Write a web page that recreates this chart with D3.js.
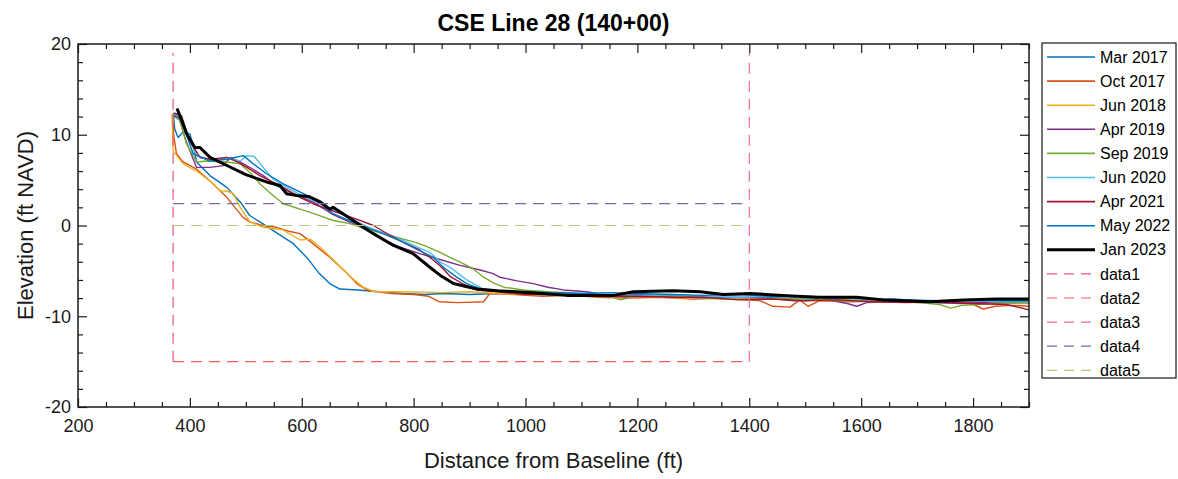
<!DOCTYPE html>
<html lang="en">
<head>
    <meta charset="UTF-8">
    <title>CSE Line 28 (140+00)</title>
    <script src="https://d3js.org/d3.v7.min.js"></script>
    <style>
        body { margin: 0; background: #fff; }
        svg { font-family: "Liberation Sans", Arial, sans-serif; }
        .tick text { font-size: 18px; fill: #1a1a1a; }
        .tick line { stroke: #1a1a1a; stroke-width: 1.2; }
    </style>
</head>
<body>
    <div id="chart"></div>
    <script>
        // survey names (legend order)
        const surveyNames = ["Mar 2017", "Oct 2017", "Jun 2018", "Apr 2019", "Sep 2019",
                             "Jun 2020", "Apr 2021", "May 2022", "Jan 2023"];

        // profiles: [distance ft, elevation ft NAVD]
        const mar2017 = [[370,12.3],[373,10.6],[379,9.7],[388,10.3],[400,10.1],[406,8.8],[412,7.0],[436,5.5],[466,4.2],[490,2.6],[507,1.1],[530,0.2],[560,-1.0],[585,-2.0],[610,-3.6],[630,-5.2],[650,-6.4],[668,-7.0],[700,-7.1],[740,-7.3],[780,-7.5],[820,-7.6],[853,-7.5],[900,-7.6],[950,-7.5],[1000,-7.6],[1060,-7.7],[1120,-7.6],[1180,-7.9],[1240,-7.8],[1300,-7.8],[1360,-8.0],[1420,-7.9],[1480,-8.0],[1540,-8.1],[1600,-8.2],[1660,-8.1],[1720,-8.4],[1780,-8.3],[1840,-8.4],[1900,-8.2]];
        const oct2017 = [[370,12.4],[371,10.0],[376,7.9],[388,7.0],[412,6.2],[436,4.9],[466,3.1],[495,0.9],[507,0.4],[530,0.0],[555,-0.2],[575,-0.6],[597,-0.9],[620,-2.0],[650,-3.5],[680,-5.2],[700,-6.5],[720,-7.2],[760,-7.5],[800,-7.6],[827,-7.8],[845,-8.4],[880,-8.5],[925,-8.4],[936,-7.5],[980,-7.6],[1030,-7.8],[1080,-7.7],[1130,-7.9],[1180,-8.0],[1240,-7.9],[1300,-8.1],[1360,-8.0],[1420,-8.3],[1442,-8.9],[1473,-9.0],[1490,-8.2],[1505,-8.9],[1525,-8.3],[1580,-8.4],[1640,-8.3],[1700,-8.5],[1760,-8.4],[1800,-8.7],[1818,-9.2],[1840,-8.9],[1870,-8.8],[1900,-8.9]];
        const jun2018 = [[368,12.3],[370,8.2],[388,6.8],[412,6.0],[442,4.6],[454,3.8],[466,3.8],[478,3.5],[490,2.0],[507,0.4],[531,-0.2],[567,-0.5],[597,-1.6],[615,-1.5],[633,-2.4],[660,-4.0],[690,-5.8],[710,-6.8],[730,-7.3],[780,-7.3],[850,-7.4],[900,-7.3],[950,-7.5],[1000,-7.6],[1060,-7.6],[1120,-7.8],[1180,-7.7],[1240,-7.9],[1300,-8.0],[1360,-8.1],[1420,-8.0],[1480,-8.2],[1540,-8.3],[1600,-8.1],[1660,-8.3],[1720,-8.4],[1780,-8.5],[1840,-8.6],[1900,-8.6]];
        const apr2019 = [[372,12.2],[380,12.0],[392,9.5],[406,7.3],[412,6.4],[436,6.4],[460,6.6],[472,7.5],[490,7.0],[513,6.2],[531,5.5],[555,4.4],[585,3.5],[620,2.6],[656,1.2],[692,0.2],[716,-0.5],[745,-1.5],[776,-2.4],[811,-3.1],[850,-3.8],[883,-4.4],[919,-4.9],[942,-5.3],[954,-5.7],[985,-6.1],[1014,-6.4],[1040,-6.8],[1068,-7.1],[1109,-7.3],[1150,-7.7],[1200,-7.6],[1260,-7.8],[1320,-8.0],[1380,-7.9],[1430,-8.0],[1480,-8.3],[1540,-8.2],[1575,-8.6],[1592,-8.9],[1610,-8.5],[1660,-8.4],[1720,-8.5],[1780,-8.6],[1840,-8.4],[1900,-8.5]];
        const sep2019 = [[371,12.0],[382,11.6],[394,9.0],[412,7.0],[430,7.1],[466,7.0],[490,6.8],[513,5.5],[525,4.6],[545,3.5],[567,2.4],[597,1.8],[627,1.2],[656,0.55],[686,0.2],[716,-0.4],[746,-0.9],[776,-1.4],[800,-1.8],[823,-2.3],[845,-2.9],[865,-3.5],[895,-4.4],[907,-4.8],[925,-5.7],[945,-6.4],[961,-6.8],[996,-7.1],[1040,-7.3],[1080,-7.4],[1120,-7.6],[1150,-7.8],[1170,-8.2],[1190,-7.9],[1240,-7.7],[1300,-7.9],[1360,-8.1],[1400,-8.2],[1450,-8.0],[1500,-8.1],[1560,-8.3],[1620,-8.4],[1690,-8.4],[1740,-8.7],[1760,-9.1],[1780,-8.8],[1840,-8.6],[1900,-8.5]];
        const jun2020 = [[370,12.3],[384,12.0],[396,10.0],[412,7.7],[448,7.1],[466,7.5],[490,7.1],[502,7.7],[515,7.6],[531,6.4],[549,5.1],[573,4.2],[603,3.2],[640,2.2],[680,1.0],[716,-0.1],[750,-0.9],[776,-1.5],[811,-2.5],[830,-3.0],[847,-4.0],[865,-4.6],[880,-5.3],[895,-6.0],[924,-7.0],[960,-7.3],[1000,-7.5],[1050,-7.6],[1100,-7.5],[1150,-7.6],[1200,-7.7],[1260,-7.6],[1320,-7.8],[1380,-7.9],[1440,-7.8],[1500,-8.0],[1560,-8.0],[1620,-8.2],[1680,-8.3],[1740,-8.4],[1800,-8.3],[1860,-8.4],[1900,-8.4]];
        const apr2021 = [[371,12.4],[385,12.1],[398,9.5],[418,7.5],[436,7.3],[466,7.5],[485,7.0],[502,6.4],[525,5.5],[561,4.4],[597,3.1],[620,2.4],[660,1.5],[698,0.7],[728,0.0],[750,-0.8],[776,-1.7],[811,-2.7],[835,-3.8],[850,-4.6],[865,-5.6],[890,-6.5],[913,-7.1],[950,-7.3],[1000,-7.6],[1050,-7.5],[1100,-7.7],[1150,-7.8],[1200,-7.8],[1260,-7.9],[1320,-7.9],[1380,-8.2],[1440,-8.1],[1500,-8.3],[1560,-8.2],[1620,-8.4],[1680,-8.5],[1740,-8.4],[1800,-8.6],[1860,-8.7],[1880,-9.0],[1900,-9.3]];
        const may2022 = [[370,12.1],[383,11.8],[395,9.8],[406,7.9],[436,7.1],[466,7.3],[496,7.7],[513,6.8],[537,5.7],[567,4.6],[603,3.5],[630,2.6],[656,1.3],[690,0.4],[716,-0.2],[745,-0.9],[776,-1.7],[805,-2.6],[835,-3.5],[853,-4.6],[875,-5.6],[895,-6.4],[924,-7.1],[960,-7.3],[1000,-7.3],[1050,-7.4],[1100,-7.5],[1150,-7.4],[1200,-7.5],[1260,-7.6],[1320,-7.7],[1380,-7.6],[1440,-7.8],[1500,-7.8],[1560,-7.9],[1620,-8.1],[1680,-8.2],[1740,-8.3],[1800,-8.2],[1860,-8.3],[1900,-8.3]];
        const jan2023 = [[377,12.9],[384,11.8],[395,10.0],[409,8.6],[418,8.6],[436,7.5],[470,6.5],[500,5.6],[537,4.8],[561,4.4],[573,3.5],[591,3.3],[612,3.2],[633,2.6],[650,1.8],[656,2.0],[692,0.55],[728,-0.9],[764,-2.2],[799,-3.1],[829,-4.6],[850,-5.6],[871,-6.4],[913,-7.0],[950,-7.2],[984,-7.3],[1030,-7.5],[1074,-7.7],[1157,-7.7],[1193,-7.3],[1264,-7.2],[1312,-7.3],[1354,-7.6],[1401,-7.5],[1460,-7.7],[1520,-7.9],[1592,-7.9],[1640,-8.2],[1723,-8.4],[1783,-8.2],[1842,-8.1],[1900,-8.1]];

        // reference lines (dashed)
        const refNames = ["data1", "data2", "data3", "data4", "data5"];
        const data1 = [[370,-15],[370,19]];
        const data2 = [[370,-15],[1400,-15]];
        const data3 = [[1400,-15],[1400,19]];
        const data4 = [[370,2.4],[1400,2.4]];
        const data5 = [[370,0],[1400,0]];

        const xMajor = [200,400,600,800,1000,1200,1400,1600,1800];
        const yMajor = [-20,-10,0,10,20];

        const surveys = [mar2017, oct2017, jun2018, apr2019, sep2019, jun2020, apr2021, may2022, jan2023];
        const refs = [data1, data2, data3, data4, data5];

        const surveyColors = ["#0072BD","#D95319","#EDB120","#7E2F8E","#77AC30","#4DBEEE","#A2142F","#0072BD","#000000"];
        const refColors = ["#e8577e","#f0605a","#ee6a92","#6e6ea6","#b9c77a"];

        const W = 1178, H = 479;
        const L = 78, R = 1029, T = 44, B = 407;

        const svg = d3.select("#chart").append("svg")
            .attr("width", W).attr("height", H);

        const x = d3.scaleLinear().domain([200, 1900]).range([L, R]);
        const y = d3.scaleLinear().domain([-20, 20]).range([B, T]);

        const xMinor = d3.range(200, 1901, 50).filter(v => !xMajor.includes(v));
        const yMinor = d3.range(-20, 21, 2).filter(v => !yMajor.includes(v));

        // axes with inward ticks on all four sides
        function addAxis(axisFn, scale, pos, values, size, labels, pad) {
            const a = axisFn(scale).tickValues(values).tickSize(-size).tickPadding(pad || 6)
                .tickFormat(labels ? (d => String(d)) : "");
            const g = svg.append("g").attr("transform", pos).call(a);
            g.select(".domain").remove();
            return g;
        }
        addAxis(d3.axisBottom, x, `translate(0,${B})`, xMajor, 9, true, 12);
        addAxis(d3.axisBottom, x, `translate(0,${B})`, xMinor, 5, false);
        addAxis(d3.axisTop, x, `translate(0,${T})`, xMajor, 9, false);
        addAxis(d3.axisTop, x, `translate(0,${T})`, xMinor, 5, false);
        addAxis(d3.axisLeft, y, `translate(${L},0)`, yMajor, 9, true, 7);
        addAxis(d3.axisLeft, y, `translate(${L},0)`, yMinor, 5, false);
        addAxis(d3.axisRight, y, `translate(${R},0)`, yMajor, 9, false);
        addAxis(d3.axisRight, y, `translate(${R},0)`, yMinor, 5, false);

        const line = d3.line().x(d => x(d[0])).y(d => y(d[1]));

        surveys.forEach((s, i) => {
            svg.append("path")
                .datum(s)
                .attr("d", line)
                .attr("fill", "none")
                .attr("stroke", surveyColors[i])
                .attr("stroke-width", i === 8 ? 3 : 1.4)
                .attr("stroke-linejoin", "round");
        });

        refs.forEach((r, i) => {
            svg.append("path")
                .datum(r)
                .attr("d", line)
                .attr("fill", "none")
                .attr("stroke", refColors[i])
                .attr("stroke-width", 1.2)
                .attr("stroke-dasharray", "11,7");
        });

        // frame
        svg.append("rect")
            .attr("x", L).attr("y", T)
            .attr("width", R - L).attr("height", B - T)
            .attr("fill", "none").attr("stroke", "#1a1a1a").attr("stroke-width", 1.5);

        // title and labels
        svg.append("text")
            .attr("x", (L + R) / 2).attr("y", 31)
            .attr("text-anchor", "middle")
            .style("font-size", "23px").style("font-weight", "bold")
            .text("CSE Line 28 (140+00)");

        svg.append("text")
            .attr("x", (L + R) / 2).attr("y", 468)
            .attr("text-anchor", "middle")
            .style("font-size", "22px").attr("fill", "#1a1a1a")
            .text("Distance from Baseline (ft)");

        svg.append("text")
            .attr("transform", `translate(33,${(T + B) / 2}) rotate(-90)`)
            .attr("text-anchor", "middle")
            .style("font-size", "22px").attr("fill", "#1a1a1a")
            .text("Elevation (ft NAVD)");

        // legend
        const lg = svg.append("g");
        lg.append("rect")
            .attr("x", 1042).attr("y", 43).attr("width", 134).attr("height", 335)
            .attr("fill", "#fff").attr("stroke", "#1a1a1a").attr("stroke-width", 1.2);

        const legendItems = surveyNames.map((n, i) => ({ name: n, color: surveyColors[i], w: i === 8 ? 3 : 1.6, dash: null }))
            .concat(refNames.map((n, i) => ({ name: n, color: refColors[i], w: 1.2, dash: "10,7" })));

        legendItems.forEach((d, i) => {
            const yy = 57 + i * 24.1;
            lg.append("line")
                .attr("x1", 1047).attr("x2", 1095)
                .attr("y1", yy).attr("y2", yy)
                .attr("stroke", d.color).attr("stroke-width", d.w)
                .attr("stroke-dasharray", d.dash);
            lg.append("text")
                .attr("x", 1100).attr("y", yy)
                .attr("dy", "0.35em")
                .style("font-size", "16px").attr("fill", "#000")
                .text(d.name);
        });
    </script>
</body>
</html>
